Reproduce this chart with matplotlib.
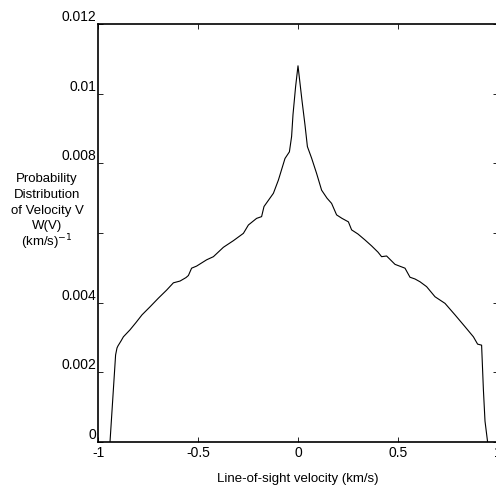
import matplotlib
matplotlib.use("Agg")
import matplotlib.pyplot as plt

plt.rcParams['font.family'] = ['Liberation Sans', 'DejaVu Sans']
plt.rcParams['font.size'] = 10

# line-of-sight velocity (km/s)
v = [-0.94, -0.912, -0.905, -0.9, -0.885, -0.873, -0.84, -0.81, -0.78, -0.74,
     -0.698, -0.657, -0.623, -0.59, -0.56, -0.548, -0.532, -0.507, -0.457, -0.423,
     -0.373, -0.323, -0.273, -0.248, -0.207, -0.182, -0.17, -0.123, -0.098, -0.065,
     -0.043, -0.032, -0.025, -0.012, 0.0, 0.008, 0.02, 0.035, 0.047, 0.068,
     0.093, 0.118, 0.145, 0.168, 0.193, 0.22, 0.252, 0.268, 0.3, 0.335,
     0.368, 0.4, 0.418, 0.443, 0.485, 0.535, 0.56, 0.585, 0.61, 0.643,
     0.685, 0.735, 0.785, 0.835, 0.877, 0.898, 0.918, 0.927, 0.935, 0.948]
# probability distribution W(V)
w = [0.0, 0.0025, 0.0027, 0.00276, 0.0029, 0.00302, 0.00322, 0.00343, 0.00365, 0.00388,
     0.00413, 0.00436, 0.00457, 0.00462, 0.00472, 0.00478, 0.00499, 0.00505, 0.00523, 0.00532,
     0.00559, 0.00578, 0.00599, 0.00623, 0.00642, 0.00647, 0.00676, 0.00714, 0.00752, 0.00814,
     0.00833, 0.00877, 0.0094, 0.0102, 0.0108, 0.0104, 0.0098, 0.0091, 0.00848, 0.00815,
     0.00771, 0.00723, 0.00700, 0.00685, 0.00652, 0.00642, 0.00632, 0.00609, 0.00597, 0.0058,
     0.00563, 0.00545, 0.00532, 0.00534, 0.0051, 0.00499, 0.00473, 0.00468, 0.0046, 0.00446,
     0.00417, 0.00398, 0.00365, 0.00331, 0.00302, 0.00281, 0.00278, 0.0015, 0.0006, 0.0]

xticks = [-1, -0.5, 0, 0.5, 1]
xticklabels = ['-1', '-0.5', '0', '0.5', '1']
yticks = [0, 0.002, 0.004, 0.006, 0.008, 0.01, 0.012]
yticklabels = ['0', '0.002', '0.004', '', '0.008', '0.01', '0.012']
ylabel_lines = ['Probability', 'Distribution', 'of Velocity V', 'W(V)', '(km/s)$^{-1}$']

W, H = 496, 486
fig = plt.figure(figsize=(W / 100, H / 100), dpi=100)
ax = fig.add_axes([98 / W, 44 / H, 400 / W, 418 / H])
ax.plot(v, w, color='black', linewidth=0.8)

ax.set_xlim(-1, 1)
ax.set_ylim(0, 0.012)
ax.set_xticks(xticks)
ax.set_xticklabels(xticklabels)
ax.set_yticks(yticks)
ax.set_yticklabels(yticklabels)
for lab in ax.get_yticklabels():
    lab.set_verticalalignment('bottom')

ax.tick_params(direction='in', length=3.5, width=0.6, top=True, right=True)
ax.tick_params(axis='y', pad=1)
ax.tick_params(axis='x', pad=3)
for s in ax.spines.values():
    s.set_linewidth(1.2)

ax.set_xlabel('Line-of-sight velocity (km/s)', fontsize=9.5, labelpad=9)

# y label drawn line by line, centred left of the axis
line_y = [179, 195, 211, 226, 242]
for txt, yp in zip(ylabel_lines, line_y):
    fig.text(47 / W, 1 - yp / H, txt, ha='center', va='center', fontsize=9.5)

plt.savefig('out.png', dpi=100)
plt.close()
